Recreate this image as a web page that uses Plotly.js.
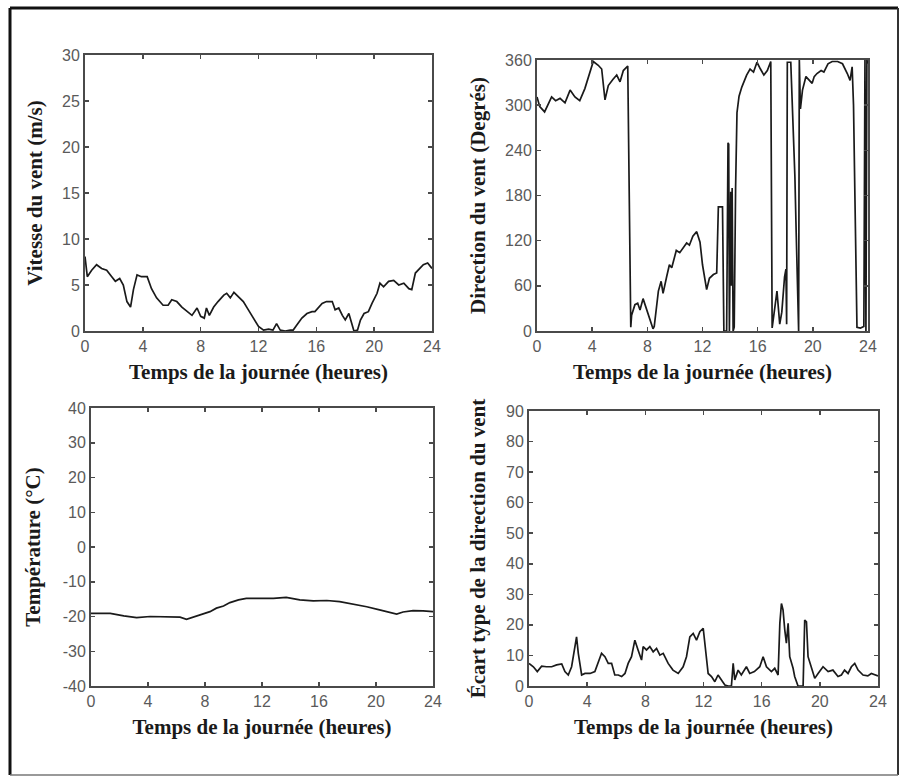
<!DOCTYPE html>
<html>
<head>
<meta charset="utf-8">
<script src="https://cdn.plot.ly/plotly-3.0.1.min.js"></script>
<style>
  html, body { margin: 0; padding: 0; background: #ffffff; }
  #fig { width: 900px; height: 777px; }
</style>
</head>
<body>
<div id="fig"></div>
<script>
// Heures de la journée (axe commun) et graduations
const hourTicks = [0, 4, 8, 12, 16, 20, 24];

// Vitesse du vent (m/s)
const speedHours = [0, 0.16, 0.46, 0.8, 1.15, 1.5, 1.85, 2.1, 2.4, 2.65, 2.9, 3.15, 3.35, 3.6, 3.9, 4.3, 4.6, 4.95, 5.4, 5.75, 6.0, 6.35, 6.7, 7.05, 7.4, 7.75, 8.0, 8.25, 8.4, 8.6, 8.9, 9.2, 9.6, 9.8, 10.05, 10.3, 10.6, 10.95, 11.3, 11.65, 12.0, 12.35, 12.7, 13.0, 13.25, 13.5, 13.85, 14.2, 14.4, 14.65, 15.0, 15.35, 15.7, 15.9, 16.15, 16.4, 16.7, 17.1, 17.3, 17.55, 17.8, 18.0, 18.25, 18.45, 18.6, 18.85, 19.05, 19.3, 19.6, 19.85, 20.2, 20.4, 20.65, 21.0, 21.35, 21.7, 22.05, 22.4, 22.6, 22.85, 23.15, 23.4, 23.7, 24];
const speedValues = [8.1, 5.9, 6.6, 7.2, 6.8, 6.6, 5.9, 5.4, 5.7, 5.0, 3.2, 2.6, 4.5, 6.1, 5.9, 5.9, 4.6, 3.6, 2.8, 2.8, 3.4, 3.2, 2.6, 2.1, 1.7, 2.5, 1.6, 1.4, 2.5, 1.7, 2.6, 3.2, 3.9, 4.1, 3.6, 4.2, 3.7, 3.2, 2.3, 1.4, 0.5, 0.1, 0.2, 0.1, 0.8, 0.1, 0, 0.1, 0.1, 0.65, 1.4, 1.9, 2.1, 2.1, 2.5, 3.0, 3.2, 3.2, 2.3, 2.5, 1.7, 1.2, 1.9, 0.65, 0, 0.1, 1.2, 1.9, 2.1, 3.0, 4.1, 5.2, 4.8, 5.4, 5.5, 5.0, 5.2, 4.6, 4.5, 6.3, 6.8, 7.2, 7.4, 6.8];

// Direction du vent (degrés)
const dirHours = [0, 0.2, 0.55, 0.8, 1.06, 1.35, 1.67, 2.03, 2.4, 2.75, 3.1, 3.47, 3.84, 4.08, 4.44, 4.69, 4.93, 5.17, 5.5, 5.78, 6.02, 6.26, 6.58, 6.63, 6.72, 6.8, 6.86, 7.1, 7.3, 7.47, 7.69, 7.95, 8.2, 8.41, 8.5, 8.8, 9.0, 9.14, 9.4, 9.6, 9.77, 10.1, 10.35, 10.6, 10.85, 11.05, 11.3, 11.58, 11.82, 12.0, 12.3, 12.5, 12.79, 13.03, 13.15, 13.45, 13.55, 13.75, 13.85, 13.9, 13.95, 14.05, 14.1, 14.15, 14.22, 14.3, 14.4, 14.5, 14.65, 14.85, 15.2, 15.45, 15.7, 15.95, 16.2, 16.45, 16.7, 16.95, 17.05, 17.15, 17.4, 17.6, 17.75, 17.95, 18.05, 18.1, 18.15, 18.4, 18.55, 18.7, 18.8, 18.9, 18.97, 19.02, 19.1, 19.25, 19.5, 19.75, 19.95, 20.1, 20.3, 20.6, 20.8, 21.1, 21.4, 21.8, 22.15, 22.5, 22.7, 22.85, 22.95, 23.05, 23.12, 23.2, 23.45, 23.7, 23.78, 23.85, 23.92, 24.0];
const dirValues = [311, 298, 291, 302, 311, 306, 309, 303, 320, 311, 306, 322, 346, 358, 353, 348, 307, 326, 334, 340, 331, 346, 352, 250, 80, 5, 21, 35, 37, 28, 43, 29, 16, 3, 6, 53, 66, 50, 72, 88, 84, 107, 104, 110, 117, 114, 126, 132, 118, 88, 55, 70, 75, 77, 165, 165, 0, 0, 250, 248, 0, 185, 60, 190, 0, 5, 190, 290, 312, 324, 340, 348, 344, 357, 348, 340, 346, 358, 4, 18, 53, 9, 25, 72, 82, 9, 357, 357, 282, 205, 126, 65, 0, 360, 295, 320, 338, 333, 329, 338, 342, 346, 344, 355, 358, 358, 355, 342, 333, 351, 300, 180, 70, 5, 4, 6, 360, 0, 360, 355];

// Température (°C)
const tempHours = [0, 1.35, 2.3, 3.2, 4.15, 5.3, 6.25, 6.7, 7.2, 7.9, 8.35, 8.8, 9.3, 9.75, 10.35, 10.9, 11.85, 12.8, 13.7, 14.65, 15.6, 16.55, 17.45, 18.4, 19.35, 20.25, 20.85, 21.45, 21.9, 22.6, 23.3, 24];
const tempValues = [-19.1, -19.1, -19.8, -20.3, -20.0, -20.0, -20.2, -20.8, -20.2, -19.3, -18.6, -17.6, -17.0, -16.0, -15.2, -14.8, -14.8, -14.8, -14.5, -15.2, -15.5, -15.4, -15.7, -16.4, -17.2, -18.1, -18.6, -19.3, -18.7, -18.3, -18.4, -18.6];
const tempTicks = [-40, -30, -20, -10, 0, 10, 20, 30, 40];
const tempTickText = ['-40', '-30', '-20', '-10', '0', '10', '20', '30', '40'];

// Écart type de la direction du vent
const sdHours = [0, 0.3, 0.57, 0.87, 1.2, 1.56, 1.9, 2.25, 2.47, 2.7, 2.93, 3.16, 3.27, 3.39, 3.62, 3.85, 4.2, 4.53, 4.76, 4.99, 5.22, 5.45, 5.68, 5.9, 6.14, 6.37, 6.6, 6.82, 7.05, 7.28, 7.5, 7.74, 7.85, 8.08, 8.31, 8.54, 8.77, 9.0, 9.23, 9.57, 9.9, 10.26, 10.6, 10.83, 11.06, 11.29, 11.52, 11.75, 11.98, 12.16, 12.32, 12.55, 12.78, 13.0, 13.24, 13.47, 13.7, 13.92, 14.04, 14.15, 14.38, 14.6, 14.95, 15.18, 15.5, 15.87, 16.1, 16.33, 16.67, 16.9, 17.13, 17.25, 17.36, 17.47, 17.59, 17.7, 17.82, 17.93, 18.16, 18.27, 18.5, 18.85, 18.96, 19.08, 19.19, 19.42, 19.65, 19.88, 20.22, 20.57, 20.9, 21.25, 21.48, 21.7, 21.94, 22.17, 22.4, 22.63, 22.97, 23.3, 23.54, 24];
const sdValues = [7.4, 6.3, 4.7, 6.5, 6.3, 6.3, 6.9, 7.2, 4.7, 3.6, 6.3, 14, 16.1, 10.7, 3.6, 4.1, 4.1, 4.7, 8.0, 10.7, 9.6, 7.4, 7.4, 3.6, 3.6, 3.1, 4.1, 7.4, 9.6, 15, 11.8, 8.5, 12.9, 11.8, 12.9, 11.2, 12.3, 10.1, 10.7, 7.4, 5.2, 4.1, 6.3, 9.6, 16.1, 17.2, 15, 17.8, 18.9, 10.7, 4.1, 3.1, 1.4, 3.6, 2.0, 0.3, 0, 0, 7.4, 2.0, 5.2, 3.6, 6.3, 4.1, 4.7, 6.3, 9.6, 6.3, 4.7, 5.8, 3.6, 20.5, 27, 24.9, 18.3, 14, 20.5, 9.6, 5.8, 3.1, 0, 0, 21.6, 21, 9.6, 6.3, 2.5, 4.1, 6.3, 4.7, 5.2, 3.1, 3.6, 5.2, 4.1, 6.3, 7.4, 5.2, 3.6, 3.3, 4.1, 3.3];

const W = 900, H = 777;
// pixel box -> paper domain
const dx = (a, b) => [a / W, b / W];
const dy = (top, bottom) => [1 - bottom / H, 1 - top / H];

const lineStyle = { color: '#1a1a1a', width: 1.7 };
const tickFont = { family: 'Liberation Sans, Arial, sans-serif', size: 16, color: '#5a5a5a' };
const titleFont = { family: 'Liberation Serif, Times New Roman, serif', size: 21, color: '#1a1a1a', weight: 'bold' };

function axisBase(extra) {
  return Object.assign({
    showline: true, linecolor: '#4a4a4a', linewidth: 2, mirror: 'ticks',
    ticks: 'inside', ticklen: 4, tickwidth: 1.5, tickcolor: '#4a4a4a',
    showgrid: false, zeroline: false, tickfont: tickFont, fixedrange: true
  }, extra);
}

function xAxis(domain, anchor) {
  return axisBase({
    domain: domain, anchor: anchor, range: [0, 24], tickmode: 'array', tickvals: hourTicks,
    title: { text: 'Temps de la journée (heures)', font: titleFont, standoff: 10 }
  });
}

const traces = [
  { x: speedHours, y: speedValues, xaxis: 'x', yaxis: 'y', type: 'scatter', mode: 'lines', line: lineStyle },
  { x: dirHours, y: dirValues, xaxis: 'x2', yaxis: 'y2', type: 'scatter', mode: 'lines', line: lineStyle },
  { x: tempHours, y: tempValues, xaxis: 'x3', yaxis: 'y3', type: 'scatter', mode: 'lines', line: lineStyle },
  { x: sdHours, y: sdValues, xaxis: 'x4', yaxis: 'y4', type: 'scatter', mode: 'lines', line: lineStyle }
];

const layout = {
  width: W, height: H,
  margin: { l: 0, r: 0, t: 0, b: 0 },
  paper_bgcolor: '#ffffff', plot_bgcolor: '#ffffff',
  showlegend: false,
  xaxis: xAxis(dx(85, 432), 'y'),
  yaxis: axisBase({ domain: dy(55, 331), anchor: 'x', range: [0, 30], dtick: 5,
    title: { text: 'Vitesse du vent (m/s)', font: titleFont, standoff: 14 } }),
  xaxis2: xAxis(dx(537, 868), 'y2'),
  yaxis2: axisBase({ domain: dy(60, 331), anchor: 'x2', range: [0, 360], dtick: 60,
    title: { text: 'Direction du vent (Degrés)', font: titleFont, standoff: 14 } }),
  xaxis3: xAxis(dx(91, 433), 'y3'),
  yaxis3: axisBase({ domain: dy(408, 686), anchor: 'x3', range: [-40, 40], tickmode: 'array',
    tickvals: tempTicks, ticktext: tempTickText,
    title: { text: 'Température (°C)', font: titleFont, standoff: 16 } }),
  xaxis4: xAxis(dx(529, 878), 'y4'),
  yaxis4: axisBase({ domain: dy(411, 686), anchor: 'x4', range: [0, 90], dtick: 10,
    title: { text: 'Écart type de la direction du vent', font: titleFont, standoff: 15 } }),
  shapes: [
    // cadre extérieur de la figure
    { type: 'line', xref: 'paper', yref: 'paper', x0: 10 / W, x1: 898 / W, y0: 1 - 8 / H, y1: 1 - 8 / H, line: { color: '#111111', width: 3 } },
    { type: 'line', xref: 'paper', yref: 'paper', x0: 10 / W, x1: 10 / W, y0: 1 - 8 / H, y1: 1 - 775 / H, line: { color: '#111111', width: 3 } },
    { type: 'line', xref: 'paper', yref: 'paper', x0: 898 / W, x1: 898 / W, y0: 1 - 8 / H, y1: 1 - 775 / H, line: { color: '#333333', width: 2 } },
    { type: 'line', xref: 'paper', yref: 'paper', x0: 10 / W, x1: 898 / W, y0: 1 - 775 / H, y1: 1 - 775 / H, line: { color: '#777777', width: 1.5 } }
  ]
};

Plotly.newPlot('fig', traces, layout, { staticPlot: true, displayModeBar: false });
</script>
</body>
</html>
